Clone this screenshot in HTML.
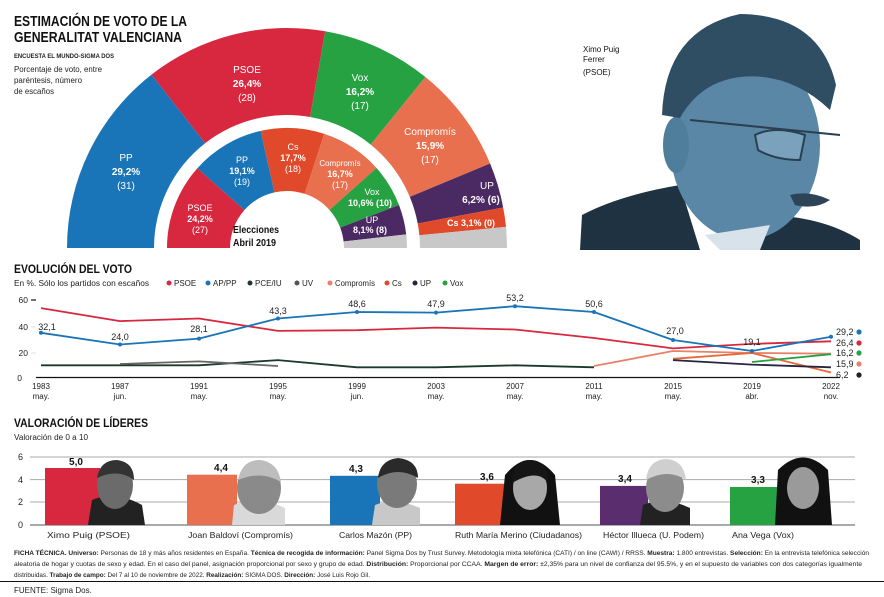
<!DOCTYPE html>
<html><head><meta charset="utf-8"><style>
html,body{margin:0;padding:0;background:#fff;}
svg{display:block;font-family:"Liberation Sans Narrow","Liberation Sans",sans-serif;}
</style></head><body>
<svg width="884" height="597" viewBox="0 0 884 597" xmlns="http://www.w3.org/2000/svg">
<rect width="884" height="597" fill="#fff"/>
<!-- Title -->
<text x="14" y="26" font-size="15" font-weight="bold" fill="#111" textLength="173" lengthAdjust="spacingAndGlyphs">ESTIMACIÓN DE VOTO DE LA</text>
<text x="14" y="42" font-size="15" font-weight="bold" fill="#111" textLength="168" lengthAdjust="spacingAndGlyphs">GENERALITAT VALENCIANA</text>
<text x="14" y="58" font-size="6.5" font-weight="bold" fill="#222" textLength="100" lengthAdjust="spacingAndGlyphs">ENCUESTA EL MUNDO-SIGMA DOS</text>
<text x="14" y="72" font-size="8" fill="#222" textLength="88" lengthAdjust="spacingAndGlyphs">Porcentaje de voto, entre</text>
<text x="14" y="83" font-size="8" fill="#222" textLength="68" lengthAdjust="spacingAndGlyphs">paréntesis, número</text>
<text x="14" y="94" font-size="8" fill="#222" textLength="40" lengthAdjust="spacingAndGlyphs">de escaños</text>

<!-- Outer ring -->
<path d="M67,248 A220,220 0 0 1 151.5,74.6 L205.1,143.2 A133,133 0 0 0 154,248 Z" fill="#1a74b8"/>
<path d="M151.5,74.6 A220,220 0 0 1 325.2,31.3 L310.1,117 A133,133 0 0 0 205.1,143.2 Z" fill="#d8283f"/>
<path d="M325.2,31.3 A220,220 0 0 1 425.4,77 L370.7,144.6 A133,133 0 0 0 310.1,117 Z" fill="#27a243"/>
<path d="M425.4,77 A220,220 0 0 1 490.1,163.5 L409.8,196.9 A133,133 0 0 0 370.7,144.6 Z" fill="#e8704f"/>
<path d="M490.1,163.5 A220,220 0 0 1 503.2,207.5 L417.7,223.5 A133,133 0 0 0 409.8,196.9 Z" fill="#4b2a63"/>
<path d="M503.2,207.5 A220,220 0 0 1 506,226.9 L419.4,235.3 A133,133 0 0 0 417.7,223.5 Z" fill="#e04a2a"/>
<path d="M506,226.9 A220,220 0 0 1 507,248 L420,248 A133,133 0 0 0 419.4,235.3 Z" fill="#c8c8c8"/>
<!-- Inner ring -->
<path d="M167,248 A120,120 0 0 1 197.4,168.2 L244.4,210.1 A57,57 0 0 0 230,248 Z" fill="#d8283f"/>
<path d="M197.4,168.2 A120,120 0 0 1 260.6,130.9 L274.5,192.4 A57,57 0 0 0 244.4,210.1 Z" fill="#1a74b8"/>
<path d="M260.6,130.9 A120,120 0 0 1 324.3,133.9 L304.7,193.8 A57,57 0 0 0 274.5,192.4 Z" fill="#e04a2a"/>
<path d="M324.3,133.9 A120,120 0 0 1 376.5,168 L329.5,210 A57,57 0 0 0 304.7,193.8 Z" fill="#e8704f"/>
<path d="M376.5,168 A120,120 0 0 1 399,205 L340.2,227.6 A57,57 0 0 0 329.5,210 Z" fill="#27a243"/>
<path d="M399,205 A120,120 0 0 1 406.2,234.4 L343.6,241.5 A57,57 0 0 0 340.2,227.6 Z" fill="#4b2a63"/>
<path d="M406.2,234.4 A120,120 0 0 1 407,248 L344,248 A57,57 0 0 0 343.6,241.5 Z" fill="#c8c8c8"/>

<g fill="#fff" text-anchor="middle" font-size="10">
<text x="126" y="161">PP</text><text x="126" y="175" font-weight="bold">29,2%</text><text x="126" y="189">(31)</text>
<text x="247" y="73">PSOE</text><text x="247" y="87" font-weight="bold">26,4%</text><text x="247" y="101">(28)</text>
<text x="360" y="81">Vox</text><text x="360" y="95" font-weight="bold">16,2%</text><text x="360" y="109">(17)</text>
<text x="430" y="135">Compromís</text><text x="430" y="149" font-weight="bold">15,9%</text><text x="430" y="163">(17)</text>
<text x="487" y="189">UP</text><text x="481" y="203" font-weight="bold">6,2% (6)</text>
<text x="471" y="226" font-size="9" font-weight="bold">Cs 3,1% (0)</text>
<g font-size="9">
<text x="200" y="211">PSOE</text><text x="200" y="222" font-weight="bold">24,2%</text><text x="200" y="233">(27)</text>
<text x="242" y="163">PP</text><text x="242" y="174" font-weight="bold">19,1%</text><text x="242" y="185">(19)</text>
<text x="293" y="150">Cs</text><text x="293" y="161" font-weight="bold">17,7%</text><text x="293" y="172">(18)</text>
<text x="340" y="166" font-size="8">Compromís</text><text x="340" y="177" font-weight="bold">16,7%</text><text x="340" y="188">(17)</text>
<text x="372" y="195">Vox</text><text x="370" y="206" font-weight="bold">10,6% (10)</text>
<text x="372" y="223">UP</text><text x="370" y="233" font-weight="bold">8,1% (8)</text>
</g></g>
<text x="233" y="233" font-size="10.5" font-weight="bold" fill="#111" textLength="46" lengthAdjust="spacingAndGlyphs">Elecciones</text>
<text x="233" y="246" font-size="10.5" font-weight="bold" fill="#111" textLength="43" lengthAdjust="spacingAndGlyphs">Abril 2019</text>

<!-- Big photo -->
<text x="583" y="52" font-size="8" fill="#111">Ximo Puig</text>
<text x="583" y="62" font-size="8" fill="#111">Ferrer</text>
<text x="583" y="75" font-size="8" fill="#111">(PSOE)</text>
<path d="M580,250 L582,215 Q620,195 680,185 L700,250 Z" fill="#1f3242"/>
<path d="M760,215 Q820,215 860,240 L860,250 L740,250 Z" fill="#1f3242"/>
<ellipse cx="745" cy="145" rx="75" ry="95" fill="#5a87a6"/>
<ellipse cx="676" cy="145" rx="13" ry="28" fill="#4f7d9c"/>
<path d="M662,115 Q665,30 740,14 Q820,15 836,85 L830,110 Q790,72 740,77 Q700,82 680,118 Z" fill="#2f4d63"/>
<path d="M690,120 L840,135 M755,135 Q775,125 805,135 L800,160 Q775,160 758,150 Z" stroke="#2a3f50" stroke-width="2" fill="#7aa2bd"/>
<path d="M705,235 L720,250 L760,250 L770,225 Z" fill="#d8e2ea"/>
<path d="M790,195 Q810,190 830,200 Q815,210 795,205 Z" fill="#2c4456"/>

<!-- Evolución -->
<text x="14" y="273" font-size="12" font-weight="bold" fill="#111" textLength="118" lengthAdjust="spacingAndGlyphs">EVOLUCIÓN DEL VOTO</text>
<text x="14" y="286" font-size="8" fill="#222" textLength="135" lengthAdjust="spacingAndGlyphs">En %. Sólo los partidos con escaños</text>
<g font-size="8" fill="#222">
<circle cx="169" cy="283" r="2.5" fill="#d8283f"/><text x="174" y="286">PSOE</text>
<circle cx="208" cy="283" r="2.5" fill="#1a74b8"/><text x="213" y="286">AP/PP</text>
<circle cx="250" cy="283" r="2.5" fill="#1c3a2c"/><text x="255" y="286">PCE/IU</text>
<circle cx="297" cy="283" r="2.5" fill="#555"/><text x="302" y="286">UV</text>
<circle cx="330" cy="283" r="2.5" fill="#e8826a"/><text x="335" y="286" textLength="40" lengthAdjust="spacingAndGlyphs">Compromís</text>
<circle cx="387" cy="283" r="2.5" fill="#e04a2a"/><text x="392" y="286">Cs</text>
<circle cx="415" cy="283" r="2.5" fill="#2a2440"/><text x="420" y="286">UP</text>
<circle cx="445" cy="283" r="2.5" fill="#27a243"/><text x="450" y="286">Vox</text>
</g>
<g font-size="8.5" fill="#222" text-anchor="end">
<text x="28" y="303">60</text><text x="28" y="330">40</text><text x="28" y="356">20</text><text x="22" y="381">0</text>
</g>
<g stroke="#ccc" stroke-width="0.6"><line x1="31" y1="300" x2="36" y2="300" stroke="#111" stroke-width="1.2"/><line x1="31" y1="327" x2="36" y2="327"/><line x1="31" y1="353" x2="36" y2="353"/></g>
<line x1="36" y1="377.5" x2="840" y2="377.5" stroke="#111" stroke-width="1.2"/>
<g font-size="8" fill="#222" text-anchor="middle">
<text x="41" y="389">1983</text><text x="41" y="399">may.</text>
<text x="120" y="389">1987</text><text x="120" y="399">jun.</text>
<text x="199" y="389">1991</text><text x="199" y="399">may.</text>
<text x="278" y="389">1995</text><text x="278" y="399">may.</text>
<text x="357" y="389">1999</text><text x="357" y="399">jun.</text>
<text x="436" y="389">2003</text><text x="436" y="399">may.</text>
<text x="515" y="389">2007</text><text x="515" y="399">may.</text>
<text x="594" y="389">2011</text><text x="594" y="399">may.</text>
<text x="673" y="389">2015</text><text x="673" y="399">may.</text>
<text x="752" y="389">2019</text><text x="752" y="399">abr.</text>
<text x="831" y="389">2022</text><text x="831" y="399">nov.</text>
</g>
<g fill="none" stroke-width="1.8" stroke-linejoin="round">
<polyline points="41,365.3 120,365.3 199,365.3 278,360.1 357,367.3 436,367.3 515,365.3 594,367.3" stroke="#1c3a2c"/>
<polyline points="120,364 199,361.4 278,366" stroke="#666"/>
<polyline points="594,366 673,351 752,353 831,353.6" stroke="#e8826a"/>
<polyline points="673,358.8 752,353 831,372.5" stroke="#e46a3a"/>
<polyline points="673,360.1 752,364.6 831,367.3" stroke="#2a2440"/>
<polyline points="752,362 831,354.2" stroke="#27a243"/>
<polyline points="41,308.1 120,321.1 199,318.5 278,330.9 357,330.2 436,327.6 515,329.5 594,338 673,348.4 752,343.9 831,341.3" stroke="#d8283f"/>
<polyline points="41,332.8 120,344.5 199,338.6 278,318.5 357,312 436,312.6 515,306.2 594,312 673,340 752,351 831,336.7" stroke="#1a74b8"/>
</g>
<g fill="#1a74b8"><circle cx="41" cy="332.8" r="2"/><circle cx="120" cy="344.5" r="2"/><circle cx="199" cy="338.6" r="2"/><circle cx="278" cy="318.5" r="2"/><circle cx="357" cy="312" r="2"/><circle cx="436" cy="312.6" r="2"/><circle cx="515" cy="306.2" r="2"/><circle cx="594" cy="312" r="2"/><circle cx="673" cy="340" r="2"/><circle cx="752" cy="351" r="2"/><circle cx="831" cy="336.7" r="2"/></g>
<g font-size="9" fill="#222" text-anchor="middle">
<text x="47" y="330">32,1</text><text x="120" y="340">24,0</text><text x="199" y="332">28,1</text><text x="278" y="314">43,3</text><text x="357" y="307">48,6</text><text x="436" y="307">47,9</text><text x="515" y="301">53,2</text><text x="594" y="307">50,6</text><text x="675" y="334">27,0</text><text x="752" y="345">19,1</text>
</g>
<g font-size="9" fill="#222">
<text x="836" y="335">29,2</text><text x="836" y="346">26,4</text><text x="836" y="356">16,2</text><text x="836" y="367">15,9</text><text x="836" y="378">6,2</text>
</g>
<circle cx="859" cy="332" r="2.6" fill="#1a74b8"/><circle cx="859" cy="343" r="2.6" fill="#d8283f"/><circle cx="859" cy="353" r="2.6" fill="#27a243"/><circle cx="859" cy="364" r="2.6" fill="#e8826a"/><circle cx="859" cy="375" r="2.6" fill="#222"/>

<!-- Valoración -->
<text x="14" y="427" font-size="12" font-weight="bold" fill="#111" textLength="134" lengthAdjust="spacingAndGlyphs">VALORACIÓN  DE LÍDERES</text>
<text x="14" y="440" font-size="8" fill="#222" textLength="74" lengthAdjust="spacingAndGlyphs">Valoración de 0 a 10</text>
<g stroke="#aaa" stroke-width="1"><line x1="30" y1="457" x2="855" y2="457"/><line x1="30" y1="479.6" x2="855" y2="479.6"/><line x1="30" y1="502" x2="855" y2="502"/></g>
<line x1="30" y1="525" x2="855" y2="525" stroke="#555" stroke-width="1"/>
<g font-size="9" fill="#222"><text x="18" y="460">6</text><text x="18" y="483">4</text><text x="18" y="505">2</text><text x="18" y="528">0</text></g>
<rect x="45" y="468" width="55" height="57" fill="#d8283f"/>
<rect x="187" y="474.7" width="50" height="50.3" fill="#e8704f"/>
<rect x="330" y="475.8" width="50" height="49.2" fill="#1a74b8"/>
<rect x="455" y="483.7" width="52" height="41.3" fill="#e04a2a"/>
<rect x="600" y="485.9" width="48" height="39.1" fill="#5a2d6e"/>
<rect x="730" y="487" width="50" height="38" fill="#27a243"/>
<g fill="#3a3a3a">
<path d="M88,525 L92,500 Q115,490 142,505 L145,525 Z" fill="#222"/><ellipse cx="115" cy="485" rx="18" ry="24" fill="#6b6b6b"/><path d="M97,478 Q100,460 117,460 Q134,462 134,480 Q118,468 97,478 Z" fill="#333"/>
<path d="M232,525 L234,505 Q258,495 285,508 L285,525 Z" fill="#d9d9d9"/><ellipse cx="259" cy="488" rx="22" ry="26" fill="#8a8a8a"/><path d="M238,480 Q242,460 260,460 Q278,462 281,482 Q262,470 238,480 Z" fill="#bdbdbd"/>
<path d="M372,525 L375,505 Q396,497 420,508 L420,525 Z" fill="#c8c8c8"/><ellipse cx="397" cy="484" rx="20" ry="24" fill="#7a7a7a"/><path d="M378,478 Q380,460 398,458 Q418,460 418,478 Q398,466 378,478 Z" fill="#2a2a2a"/>
<path d="M500,525 L505,475 Q530,445 555,475 L560,525 Z" fill="#111"/><ellipse cx="530" cy="488" rx="17" ry="22" fill="#a8a8a8"/><path d="M512,483 Q512,460 530,460 Q548,460 548,483 Q538,468 512,483 Z" fill="#151515"/>
<path d="M640,525 L643,505 Q665,496 690,508 L690,525 Z" fill="#222"/><ellipse cx="665" cy="488" rx="19" ry="24" fill="#8c8c8c"/><path d="M646,480 Q648,460 666,459 Q684,460 686,480 Q668,468 646,480 Z" fill="#cfcfcf"/>
<path d="M775,525 L778,470 Q803,445 828,470 L832,525 Z" fill="#111"/><ellipse cx="803" cy="488" rx="16" ry="21" fill="#9a9a9a"/>
</g>
<g font-size="10" font-weight="bold" fill="#111" text-anchor="middle">
<text x="76" y="465">5,0</text><text x="221" y="471">4,4</text><text x="356" y="472">4,3</text><text x="487" y="480">3,6</text><text x="625" y="482">3,4</text><text x="758" y="483">3,3</text>
</g>
<g font-size="8.5" fill="#222">
<text x="47" y="538" textLength="83" lengthAdjust="spacingAndGlyphs">Ximo Puig (PSOE)</text>
<text x="188" y="538" textLength="105" lengthAdjust="spacingAndGlyphs">Joan Baldoví (Compromís)</text>
<text x="339" y="538" textLength="73" lengthAdjust="spacingAndGlyphs">Carlos Mazón (PP)</text>
<text x="455" y="538" textLength="127" lengthAdjust="spacingAndGlyphs">Ruth María Merino (Ciudadanos)</text>
<text x="603" y="538" textLength="101" lengthAdjust="spacingAndGlyphs">Héctor Illueca (U. Podem)</text>
<text x="732" y="538" textLength="62" lengthAdjust="spacingAndGlyphs">Ana Vega (Vox)</text>
</g>
<g font-size="6" fill="#222">
<text x="14" y="555" textLength="855" lengthAdjust="spacingAndGlyphs"><tspan font-weight="bold">FICHA TÉCNICA. Universo:</tspan> Personas de 18 y más años residentes en España. <tspan font-weight="bold">Técnica de recogida de información:</tspan> Panel Sigma Dos by Trust Survey. Metodología mixta telefónica (CATI) / on line (CAWI) / RRSS. <tspan font-weight="bold">Muestra:</tspan> 1.800 entrevistas. <tspan font-weight="bold">Selección:</tspan> En la entrevista telefónica selección</text>
<text x="14" y="566" textLength="848" lengthAdjust="spacingAndGlyphs">aleatoria de hogar y cuotas de sexo y edad. En el caso del panel, asignación proporcional por sexo y grupo de edad. <tspan font-weight="bold">Distribución:</tspan> Proporcional por CCAA. <tspan font-weight="bold">Margen de error:</tspan> ±2,35% para un nivel de confianza del 95.5%, y en el supuesto de variables con dos categorías igualmente</text>
<text x="14" y="577" textLength="356" lengthAdjust="spacingAndGlyphs">distribuidas. <tspan font-weight="bold">Trabajo de campo:</tspan> Del 7 al 10 de noviembre de 2022. <tspan font-weight="bold">Realización:</tspan> SIGMA DOS. <tspan font-weight="bold">Dirección:</tspan> José Luis Rojo Gil.</text>
</g>
<line x1="0" y1="581.5" x2="884" y2="581.5" stroke="#111" stroke-width="1"/>
<text x="14" y="593" font-size="8" fill="#222">FUENTE: Sigma Dos.</text>
</svg>
</body></html>
